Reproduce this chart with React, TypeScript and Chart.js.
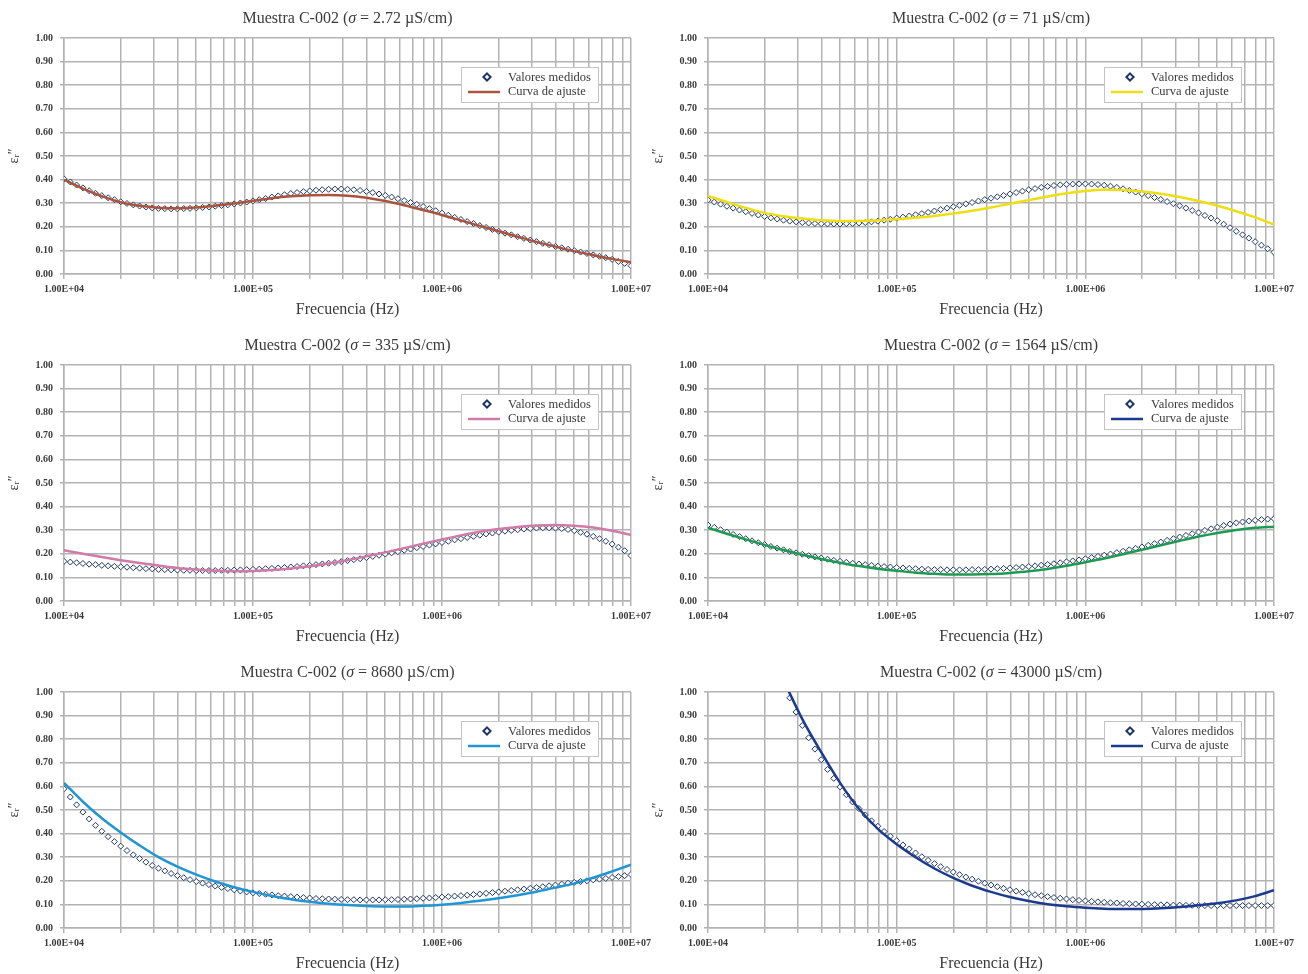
import React, { useEffect, useRef } from "react";
import { Chart, registerables } from "chart.js";

Chart.register(...registerables);

// Measurement frequencies (Hz), 30 per decade
const freqs = [
  1.000e4, 1.080e4, 1.166e4, 1.259e4, 1.359e4, 1.468e4, 1.585e4, 1.711e4, 1.848e4, 1.995e4,
  2.154e4, 2.326e4, 2.512e4, 2.712e4, 2.929e4, 3.162e4, 3.415e4, 3.687e4, 3.981e4, 4.299e4,
  4.642e4, 5.012e4, 5.412e4, 5.843e4, 6.310e4, 6.813e4, 7.356e4, 7.943e4, 8.577e4, 9.261e4,
  1.000e5, 1.080e5, 1.166e5, 1.259e5, 1.359e5, 1.468e5, 1.585e5, 1.711e5, 1.848e5, 1.995e5,
  2.154e5, 2.326e5, 2.512e5, 2.712e5, 2.929e5, 3.162e5, 3.415e5, 3.687e5, 3.981e5, 4.299e5,
  4.642e5, 5.012e5, 5.412e5, 5.843e5, 6.310e5, 6.813e5, 7.356e5, 7.943e5, 8.577e5, 9.261e5,
  1.000e6, 1.080e6, 1.166e6, 1.259e6, 1.359e6, 1.468e6, 1.585e6, 1.711e6, 1.848e6, 1.995e6,
  2.154e6, 2.326e6, 2.512e6, 2.712e6, 2.929e6, 3.162e6, 3.415e6, 3.687e6, 3.981e6, 4.299e6,
  4.642e6, 5.012e6, 5.412e6, 5.843e6, 6.310e6, 6.813e6, 7.356e6, 7.943e6, 8.577e6, 9.261e6,
  1.000e7,
];

// Fit-curve frequencies (Hz), 10 per decade
const fitFreqs = [
  1.000e4, 1.259e4, 1.585e4, 1.995e4, 2.512e4, 3.162e4, 3.981e4, 5.012e4, 6.310e4, 7.943e4,
  1.000e5, 1.259e5, 1.585e5, 1.995e5, 2.512e5, 3.162e5, 3.981e5, 5.012e5, 6.310e5, 7.943e5,
  1.000e6, 1.259e6, 1.585e6, 1.995e6, 2.512e6, 3.162e6, 3.981e6, 5.012e6, 6.310e6, 7.943e6,
  1.000e7,
];

const sigmaLabels = ["2.72", "71", "335", "1564", "8680", "43000"];

const meas1 = [
  0.403, 0.390, 0.377, 0.365, 0.353, 0.342, 0.332, 0.323, 0.315, 0.306,
  0.299, 0.293, 0.288, 0.284, 0.280, 0.278, 0.277, 0.276, 0.276, 0.277,
  0.278, 0.280, 0.282, 0.284, 0.287, 0.290, 0.293, 0.297, 0.301, 0.305,
  0.310, 0.315, 0.320, 0.326, 0.331, 0.336, 0.341, 0.345, 0.349, 0.352,
  0.355, 0.357, 0.359, 0.360, 0.360, 0.359, 0.357, 0.354, 0.350, 0.345,
  0.339, 0.333, 0.326, 0.319, 0.311, 0.303, 0.295, 0.286, 0.277, 0.268,
  0.258, 0.249, 0.240, 0.231, 0.222, 0.214, 0.205, 0.197, 0.189, 0.181,
  0.173, 0.166, 0.158, 0.151, 0.144, 0.137, 0.130, 0.124, 0.117, 0.111,
  0.105, 0.099, 0.093, 0.087, 0.081, 0.075, 0.069, 0.062, 0.053, 0.045,
  0.035,
];
const fit1 = [
  0.400, 0.362, 0.330, 0.304, 0.289, 0.281, 0.279, 0.282, 0.289, 0.299,
  0.310, 0.321, 0.329, 0.334, 0.335, 0.332, 0.323, 0.309, 0.291, 0.271,
  0.250, 0.227, 0.204, 0.181, 0.158, 0.136, 0.116, 0.097, 0.080, 0.064,
  0.050,
];

const meas2 = [
  0.314, 0.305, 0.296, 0.287, 0.279, 0.271, 0.264, 0.257, 0.250, 0.244,
  0.238, 0.233, 0.228, 0.224, 0.221, 0.218, 0.216, 0.214, 0.213, 0.212,
  0.212, 0.212, 0.213, 0.214, 0.216, 0.218, 0.221, 0.224, 0.228, 0.232,
  0.237, 0.241, 0.246, 0.251, 0.256, 0.261, 0.267, 0.273, 0.279, 0.285,
  0.291, 0.297, 0.303, 0.309, 0.315, 0.321, 0.327, 0.333, 0.339, 0.345,
  0.351, 0.357, 0.362, 0.367, 0.371, 0.375, 0.378, 0.380, 0.381, 0.382,
  0.382, 0.381, 0.379, 0.376, 0.372, 0.367, 0.361, 0.354, 0.347, 0.340,
  0.332, 0.324, 0.316, 0.307, 0.298, 0.289, 0.279, 0.269, 0.259, 0.248,
  0.237, 0.226, 0.211, 0.196, 0.181, 0.166, 0.152, 0.137, 0.122, 0.107,
  0.092,
];
const fit2 = [
  0.331, 0.305, 0.280, 0.259, 0.245, 0.235, 0.228, 0.225, 0.225, 0.227,
  0.232, 0.238, 0.246, 0.256, 0.268, 0.282, 0.298, 0.313, 0.328, 0.342,
  0.352, 0.357, 0.356, 0.350, 0.340, 0.326, 0.309, 0.289, 0.266, 0.240,
  0.210,
];

const meas3 = [
  0.168, 0.165, 0.162, 0.159, 0.156, 0.154, 0.151, 0.149, 0.147, 0.145,
  0.143, 0.141, 0.139, 0.137, 0.136, 0.134, 0.133, 0.132, 0.131, 0.130,
  0.130, 0.129, 0.129, 0.129, 0.129, 0.130, 0.130, 0.131, 0.132, 0.133,
  0.134, 0.135, 0.137, 0.138, 0.140, 0.142, 0.144, 0.146, 0.149, 0.151,
  0.154, 0.157, 0.160, 0.163, 0.167, 0.171, 0.175, 0.179, 0.184, 0.189,
  0.194, 0.199, 0.204, 0.209, 0.215, 0.220, 0.226, 0.231, 0.237, 0.242,
  0.248, 0.253, 0.259, 0.264, 0.269, 0.274, 0.279, 0.284, 0.288, 0.292,
  0.296, 0.299, 0.302, 0.305, 0.307, 0.309, 0.310, 0.310, 0.309, 0.307,
  0.303, 0.298, 0.291, 0.283, 0.274, 0.264, 0.253, 0.241, 0.228, 0.213,
  0.192,
];
const fit3 = [
  0.215, 0.200, 0.186, 0.173, 0.161, 0.150, 0.140, 0.133, 0.128, 0.126,
  0.127, 0.131, 0.138, 0.147, 0.159, 0.173, 0.189, 0.206, 0.224, 0.243,
  0.261, 0.278, 0.293, 0.305, 0.314, 0.320, 0.322, 0.319, 0.311, 0.298,
  0.280,
];

const meas4 = [
  0.322, 0.312, 0.302, 0.292, 0.282, 0.273, 0.264, 0.255, 0.247, 0.239,
  0.231, 0.224, 0.217, 0.210, 0.204, 0.198, 0.192, 0.187, 0.182, 0.177,
  0.172, 0.168, 0.164, 0.160, 0.157, 0.154, 0.151, 0.148, 0.146, 0.144,
  0.142, 0.140, 0.138, 0.137, 0.135, 0.134, 0.133, 0.133, 0.132, 0.132,
  0.132, 0.132, 0.133, 0.133, 0.134, 0.135, 0.137, 0.138, 0.140, 0.142,
  0.144, 0.146, 0.149, 0.152, 0.155, 0.158, 0.162, 0.166, 0.170, 0.174,
  0.179, 0.184, 0.189, 0.194, 0.199, 0.205, 0.211, 0.217, 0.223, 0.229,
  0.236, 0.243, 0.250, 0.257, 0.264, 0.271, 0.278, 0.285, 0.292, 0.299,
  0.306, 0.313, 0.320, 0.326, 0.331, 0.335, 0.339, 0.342, 0.345, 0.347,
  0.349,
];
const fit4 = [
  0.310, 0.285, 0.261, 0.238, 0.216, 0.196, 0.178, 0.162, 0.148, 0.137,
  0.128, 0.120, 0.115, 0.112, 0.112, 0.114, 0.119, 0.126, 0.136, 0.149,
  0.164, 0.180, 0.198, 0.217, 0.236, 0.255, 0.273, 0.288, 0.301, 0.310,
  0.315,
];

const meas5 = [
  0.590, 0.555, 0.522, 0.491, 0.462, 0.435, 0.410, 0.387, 0.366, 0.347,
  0.328, 0.310, 0.294, 0.279, 0.265, 0.253, 0.242, 0.231, 0.222, 0.213,
  0.205, 0.197, 0.190, 0.184, 0.178, 0.172, 0.167, 0.162, 0.157, 0.153,
  0.149, 0.146, 0.143, 0.140, 0.137, 0.135, 0.133, 0.131, 0.129, 0.127,
  0.125, 0.124, 0.123, 0.122, 0.121, 0.120, 0.120, 0.119, 0.119, 0.119,
  0.119, 0.120, 0.120, 0.121, 0.122, 0.123, 0.124, 0.126, 0.127, 0.129,
  0.131, 0.133, 0.135, 0.137, 0.139, 0.142, 0.144, 0.147, 0.150, 0.153,
  0.156, 0.159, 0.162, 0.165, 0.168, 0.172, 0.175, 0.179, 0.182, 0.186,
  0.190, 0.193, 0.197, 0.200, 0.204, 0.207, 0.210, 0.214, 0.218, 0.222,
  0.227,
];
const fit5 = [
  0.615, 0.535, 0.465, 0.405, 0.350, 0.300, 0.260, 0.226, 0.197, 0.173,
  0.153, 0.136, 0.122, 0.111, 0.103, 0.097, 0.093, 0.091, 0.091, 0.094,
  0.099, 0.106, 0.115, 0.126, 0.139, 0.154, 0.171, 0.189, 0.213, 0.240,
  0.268,
];

const meas6 = [
  null, null, null, null, null, null, null, null, null, null,
  null, null, null, 0.975, 0.915, 0.858, 0.806, 0.758, 0.713, 0.672,
  0.634, 0.598, 0.565, 0.534, 0.506, 0.479, 0.454, 0.431, 0.409, 0.389,
  0.370, 0.352, 0.335, 0.318, 0.302, 0.287, 0.273, 0.260, 0.248, 0.237,
  0.226, 0.216, 0.207, 0.198, 0.190, 0.182, 0.175, 0.168, 0.162, 0.156,
  0.151, 0.146, 0.141, 0.137, 0.133, 0.129, 0.126, 0.123, 0.120, 0.117,
  0.115, 0.113, 0.111, 0.109, 0.107, 0.106, 0.104, 0.103, 0.102, 0.101,
  0.100, 0.099, 0.098, 0.098, 0.097, 0.097, 0.096, 0.096, 0.096, 0.095,
  0.095, 0.095, 0.095, 0.095, 0.095, 0.095, 0.095, 0.095, 0.095, 0.095,
  0.095,
];
const fit6 = [
  null, null, null, null, 1.050, 0.885, 0.745, 0.615, 0.505, 0.420,
  0.355, 0.300, 0.252, 0.212, 0.179, 0.153, 0.131, 0.114, 0.101, 0.092,
  0.086, 0.082, 0.080, 0.081, 0.084, 0.089, 0.096, 0.105, 0.117, 0.135,
  0.160,
];

const fitColors = ["#a9543f", "#ecdf12", "#cf7aa9", "#1e9a52", "#2196d3", "#1c3a8e"];
const legendLineColors = ["#a9543f", "#ecdf12", "#cf7aa9", "#1c3a8e", "#2196d3", "#1c3a8e"];

const measuredSeries = [meas1, meas2, meas3, meas4, meas5, meas6];
const fitSeries = [fit1, fit2, fit3, fit4, fit5, fit6];

const SERIF = "'Liberation Serif', 'Times New Roman', serif";
const GRID = "#b3b3b3";
const TEXT = "#3a3a3a";
const NAVY = "#1f3564";

const positions = [
  { left: 0, top: 0, padRight: 23 },
  { left: 644, top: 0, padRight: 24 },
  { left: 0, top: 327, padRight: 23 },
  { left: 644, top: 327, padRight: 24 },
  { left: 0, top: 654, padRight: 23 },
  { left: 644, top: 654, padRight: 24 },
];

function formatSci(v: number): string {
  const e = Math.round(Math.log10(v));
  const m = v / Math.pow(10, e);
  return `${m.toFixed(2)}E+${String(e).padStart(2, "0")}`;
}

const decoPlugin = {
  id: "panelDeco",
  afterDraw(chart: any, _args: any, opts: any) {
    const { ctx, chartArea: ca } = chart;
    ctx.save();
    // Title with italic sigma
    const segs = [
      { t: "Muestra C-002 (", f: `16px ${SERIF}` },
      { t: "σ", f: `italic 16px ${SERIF}` },
      { t: ` = ${opts.sigma} µS/cm)`, f: `16px ${SERIF}` },
    ];
    let total = 0;
    for (const s of segs) {
      ctx.font = s.f;
      total += ctx.measureText(s.t).width;
    }
    let x = (ca.left + ca.right) / 2 - total / 2;
    ctx.fillStyle = TEXT;
    ctx.textBaseline = "middle";
    ctx.textAlign = "left";
    for (const s of segs) {
      ctx.font = s.f;
      ctx.fillText(s.t, x, 19);
      x += ctx.measureText(s.t).width;
    }

    // Legend
    const bx = Math.round(ca.right - 170);
    const by = Math.round(ca.top + 29);
    const bw = 137;
    const bh = 35;
    ctx.fillStyle = "#ffffff";
    ctx.fillRect(bx, by, bw, bh);
    ctx.strokeStyle = "#c4c4c4";
    ctx.lineWidth = 1;
    ctx.strokeRect(bx + 0.5, by + 0.5, bw, bh);

    const dx = bx + 26;
    const dy = by + 10;
    const r = 3.6;
    ctx.beginPath();
    ctx.moveTo(dx, dy - r);
    ctx.lineTo(dx + r, dy);
    ctx.lineTo(dx, dy + r);
    ctx.lineTo(dx - r, dy);
    ctx.closePath();
    ctx.fillStyle = "#ffffff";
    ctx.fill();
    ctx.strokeStyle = NAVY;
    ctx.lineWidth = 2;
    ctx.stroke();

    ctx.beginPath();
    ctx.moveTo(bx + 7, by + 25);
    ctx.lineTo(bx + 39, by + 25);
    ctx.strokeStyle = opts.legendColor;
    ctx.lineWidth = 2.5;
    ctx.stroke();

    ctx.font = `12.5px ${SERIF}`;
    ctx.fillStyle = TEXT;
    ctx.textBaseline = "middle";
    ctx.fillText("Valores medidos", bx + 47, by + 10.5);
    ctx.fillText("Curva de ajuste", bx + 47, by + 24.5);
    ctx.restore();
  },
};

function Panel({ idx }: { idx: number }) {
  const ref = useRef<HTMLCanvasElement>(null);
  const pos = positions[idx];
  useEffect(() => {
    const canvas = ref.current;
    if (!canvas) return;
    const meas = measuredSeries[idx];
    const fit = fitSeries[idx];
    const gridTicks: number[] = [];
    for (let e = 4; e <= 6; e++) {
      for (let k = 1; k <= 9; k++) gridTicks.push(k * Math.pow(10, e));
    }
    gridTicks.push(1e7);

    const chart = new Chart(canvas, {
      type: "scatter",
      data: {
        datasets: [
          {
            label: "Curva de ajuste",
            data: fitFreqs.map((f, i) => ({ x: f, y: fit[i] })),
            showLine: true,
            borderColor: fitColors[idx],
            backgroundColor: fitColors[idx],
            borderWidth: 2.5,
            pointRadius: 0,
            cubicInterpolationMode: "monotone",
            clip: 0,
            order: 0,
          } as any,
          {
            label: "Valores medidos",
            data: freqs.map((f, i) => ({ x: f, y: meas[i] })),
            showLine: false,
            pointStyle: "rectRot",
            pointRadius: 3,
            pointBorderWidth: 1,
            borderColor: NAVY,
            backgroundColor: "#ffffff",
            order: 1,
          } as any,
        ],
      },
      options: {
        responsive: false,
        animation: false,
        layout: { padding: { top: 38, right: pos.padRight, bottom: 0, left: 0 } },
        plugins: {
          legend: { display: false },
          tooltip: { enabled: false },
          title: { display: false },
          panelDeco: { sigma: sigmaLabels[idx], legendColor: legendLineColors[idx] },
        } as any,
        scales: {
          x: {
            type: "logarithmic",
            min: 1e4,
            max: 1e7,
            afterBuildTicks: (axis: any) => {
              axis.ticks = gridTicks.map((v) => ({ value: v }));
            },
            afterFit: (axis: any) => {
              axis.height = 53;
              axis.paddingLeft = 0;
              axis.paddingRight = 0;
            },
            ticks: {
              autoSkip: false,
              maxRotation: 0,
              padding: 4,
              color: TEXT,
              font: { family: SERIF, size: 10, weight: "bold" },
              callback: (v: any) => {
                const val = Number(v);
                const lg = Math.log10(val);
                return Math.abs(lg - Math.round(lg)) < 1e-6 ? formatSci(val) : "";
              },
            },
            grid: { color: GRID, lineWidth: 1.5, tickLength: 5, tickColor: GRID },
            border: { display: true, color: GRID, width: 1.5 },
            title: {
              display: true,
              text: "Frecuencia (Hz)",
              color: TEXT,
              font: { family: SERIF, size: 16 },
              padding: { top: 0, bottom: 8 },
            },
          },
          y: {
            type: "linear",
            min: 0,
            max: 1,
            afterFit: (axis: any) => {
              axis.width = 64;
            },
            ticks: {
              stepSize: 0.1,
              padding: 7,
              color: TEXT,
              font: { family: SERIF, size: 10, weight: "bold" },
              callback: (v: any) => Number(v).toFixed(2),
            },
            grid: { color: GRID, lineWidth: 1.5, tickLength: 4, tickColor: GRID },
            border: { display: true, color: GRID, width: 1.5 },
            title: {
              display: true,
              text: "εᵣ″",
              color: TEXT,
              font: { family: SERIF, size: 14 },
              padding: { top: 6, bottom: 0 },
            },
          },
        },
      } as any,
      plugins: [decoPlugin as any],
    });
    return () => chart.destroy();
  }, [idx]);

  return (
    <canvas
      ref={ref}
      width={654}
      height={327}
      style={{ position: "absolute", left: pos.left, top: pos.top, width: 654, height: 327 }}
    />
  );
}

export default function App() {
  return (
    <div
      style={{
        position: "fixed",
        left: 0,
        top: 0,
        width: 1308,
        height: 974,
        background: "#ffffff",
        overflow: "hidden",
      }}
    >
      {[0, 1, 2, 3, 4, 5].map((i) => (
        <Panel key={i} idx={i} />
      ))}
    </div>
  );
}
